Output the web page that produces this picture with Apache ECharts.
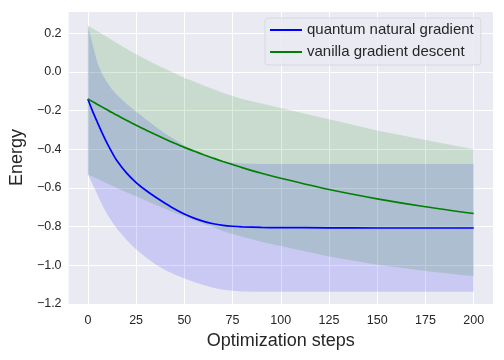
<!DOCTYPE html>
<html><head><meta charset="utf-8">
<script src="https://cdn.jsdelivr.net/npm/echarts@6/dist/echarts.min.js"></script>
<style>html,body{margin:0;padding:0;background:#fff}#c{width:504px;height:360px}</style>
</head><body><div id="c"></div>
<script>
const steps    = [0, 2, 5, 7.5, 10, 12.5, 15, 20, 25, 30, 35, 40, 45, 50, 55, 60, 65, 70, 75, 80, 90, 100, 125, 150, 175, 200];
const qngMean  = [-0.14, -0.192, -0.262, -0.318, -0.37, -0.416, -0.458, -0.522, -0.572, -0.612, -0.647, -0.679, -0.709, -0.735, -0.756, -0.773, -0.785, -0.793, -0.798, -0.801, -0.804, -0.805, -0.806, -0.807, -0.807, -0.807];
const qngUpper = [0.24, 0.16, 0.045, -0.012, -0.055, -0.09, -0.118, -0.165, -0.205, -0.245, -0.282, -0.318, -0.35, -0.382, -0.41, -0.432, -0.449, -0.462, -0.47, -0.474, -0.476, -0.476, -0.476, -0.476, -0.476, -0.476];
const qngLower = [-0.53, -0.572, -0.636, -0.69, -0.735, -0.775, -0.81, -0.868, -0.918, -0.958, -0.995, -1.024, -1.048, -1.068, -1.086, -1.102, -1.116, -1.126, -1.132, -1.135, -1.137, -1.137, -1.137, -1.137, -1.137, -1.137];
const vgdMean  = [-0.14, -0.151, -0.168, -0.182, -0.196, -0.21, -0.223, -0.25, -0.276, -0.30, -0.324, -0.347, -0.369, -0.39, -0.409, -0.428, -0.446, -0.463, -0.479, -0.495, -0.524, -0.55, -0.608, -0.656, -0.697, -0.732];
const vgdUpper = [0.24, 0.228, 0.21, 0.195, 0.18, 0.165, 0.15, 0.12, 0.092, 0.065, 0.04, 0.016, -0.007, -0.03, -0.05, -0.07, -0.09, -0.108, -0.125, -0.14, -0.163, -0.186, -0.245, -0.303, -0.352, -0.40];
const vgdLower = [-0.53, -0.539, -0.553, -0.565, -0.577, -0.589, -0.60, -0.622, -0.643, -0.665, -0.687, -0.708, -0.728, -0.748, -0.767, -0.785, -0.802, -0.822, -0.838, -0.852, -0.878, -0.90, -0.955, -0.997, -1.03, -1.057];
const xTicks = [0, 25, 50, 75, 100, 125, 150, 175, 200];
const names = ['quantum natural gradient', 'vanilla gradient descent'];

const pairs = ys => steps.map((x, i) => [x, ys[i]]);
const FONT = 'Liberation Sans, Arial, sans-serif';
const TXT = '#262626';

function band(name, lower, upper, color) {
  return {
    type: 'custom', name: name, silent: true, z: 1,
    data: [[steps[0], lower[0]]],
    encode: {x: 0, y: 1},
    renderItem: (params, api) => {
      const pts = [];
      for (let i = 0; i < steps.length; i++) pts.push(api.coord([steps[i], upper[i]]));
      for (let i = steps.length - 1; i >= 0; i--) pts.push(api.coord([steps[i], lower[i]]));
      return {type: 'polygon', shape: {points: pts}, style: {fill: color, stroke: null}};
    }
  };
}

const chart = echarts.init(document.getElementById('c'), null, {renderer: 'canvas'});
chart.setOption({
  animation: false,
  backgroundColor: '#ffffff',
  grid: {left: 67, right: 11, top: 11, bottom: 56, show: true, backgroundColor: '#EAEAF2', borderWidth: 0},
  legend: {
    data: names, orient: 'vertical', left: 265, top: 18,
    padding: [3, 7, 4, 5], itemGap: 4, itemWidth: 32, itemHeight: 2, itemTextGap: 11,
    icon: 'rect',
    backgroundColor: 'rgba(234,234,242,0.8)', borderColor: '#d8d8e0', borderWidth: 1, borderRadius: 3,
    textStyle: {fontFamily: FONT, fontSize: 15, color: TXT, lineHeight: 18}
  },
  xAxis: {
    type: 'value', min: -10, max: 210,
    name: 'Optimization steps', nameLocation: 'middle', nameGap: 27,
    nameTextStyle: {fontFamily: FONT, fontSize: 18, color: TXT},
    axisLine: {show: false}, axisTick: {show: false, customValues: xTicks},
    axisLabel: {customValues: xTicks, fontFamily: FONT, fontSize: 12.5, color: TXT, margin: 10},
    splitLine: {show: true, lineStyle: {color: '#ffffff', width: 1}}
  },
  yAxis: {
    type: 'value', min: -1.2, max: 0.315, interval: 0.2,
    name: 'Energy', nameLocation: 'middle', nameGap: 40,
    nameTextStyle: {fontFamily: FONT, fontSize: 18, color: TXT},
    axisLine: {show: false}, axisTick: {show: false},
    axisLabel: {showMaxLabel: false, fontFamily: FONT, fontSize: 12.5, color: TXT, margin: 7,
      formatter: v => (Math.round(v * 10) / 10).toFixed(1).replace('-', '\u2212')},
    splitLine: {show: true, lineStyle: {color: '#ffffff', width: 1}}
  },
  series: [
    band('qng_band', qngLower, qngUpper, 'rgba(0,0,255,0.14)'),
    band('vgd_band', vgdLower, vgdUpper, 'rgba(0,128,0,0.14)'),
    {type: 'line', name: names[0], data: pairs(qngMean), smooth: 0.3, showSymbol: false,
     lineStyle: {color: '#0000FF', width: 1.7}, itemStyle: {color: '#0000FF'}, z: 5},
    {type: 'line', name: names[1], data: pairs(vgdMean), smooth: 0.3, showSymbol: false,
     lineStyle: {color: '#008000', width: 1.7}, itemStyle: {color: '#008000'}, z: 5}
  ]
});
</script>
</body></html>
